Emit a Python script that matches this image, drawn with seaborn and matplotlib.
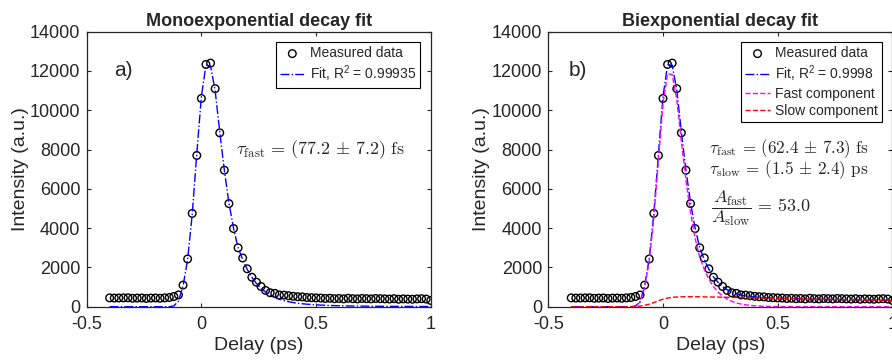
import seaborn as sns
import matplotlib
matplotlib.use("Agg")
import matplotlib.pyplot as plt
from matplotlib.font_manager import FontProperties

# delay axis (ps)
delay = [-0.40, -0.38, -0.36, -0.34, -0.32, -0.30, -0.28, -0.26, -0.24, -0.22,
         -0.20, -0.18, -0.16, -0.14, -0.12, -0.10, -0.08, -0.06, -0.04, -0.02,
         0.00, 0.02, 0.04, 0.06, 0.08, 0.10, 0.12, 0.14, 0.16, 0.18,
         0.20, 0.22, 0.24, 0.26, 0.28, 0.30, 0.32, 0.34, 0.36, 0.38,
         0.40, 0.42, 0.44, 0.46, 0.48, 0.50, 0.52, 0.54, 0.56, 0.58,
         0.60, 0.62, 0.64, 0.66, 0.68, 0.70, 0.72, 0.74, 0.76, 0.78,
         0.80, 0.82, 0.84, 0.86, 0.88, 0.90, 0.92, 0.94, 0.96, 0.98, 1.00]

measured = [450, 440, 445, 450, 455, 430, 440, 445, 420, 440,
            445, 430, 450, 470, 520, 600, 1100, 2430, 4750, 7700,
            10600, 12330, 12400, 11100, 8850, 6950, 5250, 3980, 3000, 2480,
            1930, 1500, 1250, 1030, 830, 710, 680, 600, 590, 560,
            530, 510, 500, 470, 460, 450, 440, 420, 430, 410,
            420, 400, 430, 410, 400, 420, 410, 400, 420, 410,
            400, 390, 410, 380, 400, 390, 380, 400, 410, 390, 320]

mono_fit = [0] * 14 + [40, 280, 1050, 2400, 4700, 7800, 10700,
            12300, 12250, 11000, 8900, 6950, 5300, 4000, 3000, 2400, 1900,
            1500, 1180, 930, 740, 590, 470, 380, 310, 255, 210,
            175, 150, 128, 110, 95,
            83, 73, 64, 57, 51, 46, 41, 37, 34, 31, 28, 26, 24, 22, 20,
            19, 18, 17, 16, 15, 14, 13, 12, 12, 11]

bi_fit = [0] * 14 + [30, 260, 1050, 2450, 4750, 7750, 10700,
          12300, 12300, 11050, 8900, 6950, 5300, 4000, 3020, 2400, 1900,
          1520, 1240, 1020, 860, 743, 658, 597, 552, 520, 495,
          475, 460, 448, 439, 431,
          423, 418, 412, 406, 402, 396, 392, 387, 382, 378, 373, 369, 365,
          361, 357, 353, 349, 345, 341, 337, 333, 329, 326, 322, 318]

fast_comp = [0] * 14 + [20, 230, 980, 2320, 4540, 7450, 10320,
             11860, 11820, 10550, 8400, 6440, 4790, 3490, 2515, 1900, 1400,
             1030, 750, 540, 385, 270, 190, 135, 95, 68, 48,
             33, 23, 16, 11, 8,
             5, 4, 3, 2, 2, 1, 1, 1] + [0] * 17

slow_comp = [0] * 14 + [10, 30, 70, 130, 210, 300, 380,
             440, 475, 495, 505, 510, 510, 508, 505, 500, 497,
             493, 488, 483, 478, 473, 468, 462, 457, 452, 447,
             442, 437, 432, 428, 423,
             418, 414, 409, 404, 400, 395, 391, 386, 382, 378, 373, 369, 365,
             361, 357, 353, 349, 345, 341, 337, 333, 329, 326, 322, 318]

xticks = [-0.5, 0, 0.5, 1]
xticklabels = ["-0.5", "0", "0.5", "1"]
yticks = [0, 2000, 4000, 6000, 8000, 10000, 12000, 14000]

sns.set_style("ticks")
plt.rcParams["font.family"] = ["Liberation Sans", "DejaVu Sans"]
plt.rcParams["mathtext.fontset"] = "custom"
plt.rcParams["mathtext.rm"] = "Liberation Sans"
plt.rcParams["mathtext.it"] = "Liberation Sans:italic"
plt.rcParams["axes.unicode_minus"] = False
plt.rcParams["xtick.direction"] = "in"
plt.rcParams["ytick.direction"] = "in"
plt.rcParams["xtick.top"] = True
plt.rcParams["ytick.right"] = True

gray = "#262626"
fig = plt.figure(figsize=(8.92, 3.6), dpi=100)
ax1 = fig.add_axes([0.0972, 0.148, 0.3857, 0.764])
ax2 = fig.add_axes([0.6147, 0.148, 0.3857, 0.764])

leg_font = FontProperties(family="Liberation Sans", size=10)
leg_kw = dict(loc="upper right", prop=leg_font, fancybox=False,
              edgecolor="black", framealpha=1, borderaxespad=0.75,
              handlelength=1.8, handletextpad=0.35, labelspacing=0.22,
              borderpad=0.3)


def style_axes(ax, title):
    ax.set_xlim(-0.5, 1)
    ax.set_ylim(0, 14000)
    ax.set_xticks(xticks)
    ax.set_xticklabels(xticklabels)
    ax.set_yticks(yticks)
    ax.set_yticklabels([str(v) for v in yticks])
    ax.tick_params(axis="both", labelsize=13, length=3, width=0.8,
                   color=gray, labelcolor=gray)
    ax.tick_params(axis="x", pad=6.5)
    ax.tick_params(axis="y", pad=4.5)
    for sp in ax.spines.values():
        sp.set_visible(True)
        sp.set_linewidth(0.9)
        sp.set_color(gray)
    ax.set_xlabel("Delay (ps)", fontsize=14, color=gray, labelpad=3)
    ax.set_ylabel("Intensity (a.u.)", fontsize=14, color=gray, labelpad=1)
    ax.set_title(title, fontsize=13, fontweight="bold", pad=4)


# left: monoexponential
sns.scatterplot(x=delay, y=measured, ax=ax1, marker="o", s=30,
                facecolor="none", edgecolor="black", linewidth=1.0,
                label="Measured data", zorder=2)
sns.lineplot(x=delay, y=mono_fit, ax=ax1, color="blue", linestyle="-.",
             linewidth=1.0, label="Fit, R$^2$ = 0.99935", zorder=3)
style_axes(ax1, "Monoexponential decay fit")
leg = ax1.legend(**leg_kw)
leg.get_frame().set_linewidth(0.8)
ax1.text(-0.38, 12000, "a)", fontsize=15, va="center", ha="left")
ax1.text(0.15, 8000,
         r"$\tau_{\rm fast} \,=\, (77.2 \,\pm\, 7.2)\ {\rm fs}$",
         fontsize=13, va="center", ha="left", math_fontfamily="cm")

# right: biexponential
sns.scatterplot(x=delay, y=measured, ax=ax2, marker="o", s=30,
                facecolor="none", edgecolor="black", linewidth=1.0,
                label="Measured data", zorder=2)
sns.lineplot(x=delay, y=bi_fit, ax=ax2, color="blue", linestyle="-.",
             linewidth=1.0, label="Fit, R$^2$ = 0.9998", zorder=3)
sns.lineplot(x=delay, y=fast_comp, ax=ax2, color="magenta", linestyle="--",
             linewidth=1.0, label="Fast component", zorder=3)
sns.lineplot(x=delay, y=slow_comp, ax=ax2, color="red", linestyle="--",
             linewidth=1.0, label="Slow component", zorder=3)
style_axes(ax2, "Biexponential decay fit")
leg = ax2.legend(**leg_kw)
leg.get_frame().set_linewidth(0.8)
ax2.text(-0.41, 12000, "b)", fontsize=15, va="center", ha="left")
ax2.text(0.20, 8050,
         r"$\tau_{\rm fast} \,=\, (62.4 \,\pm\, 7.3)\ {\rm fs}$",
         fontsize=12.3, va="center", ha="left", math_fontfamily="cm")
ax2.text(0.20, 7000,
         r"$\tau_{\rm slow} \,=\, (1.5 \,\pm\, 2.4)\ {\rm ps}$",
         fontsize=12.3, va="center", ha="left", math_fontfamily="cm")
ax2.text(0.21, 5000, r"$\dfrac{A_{\rm fast}}{A_{\rm slow}} \,=\, 53.0$",
         fontsize=13, va="center", ha="left", math_fontfamily="cm")

fig.savefig("out.png", dpi=100)
